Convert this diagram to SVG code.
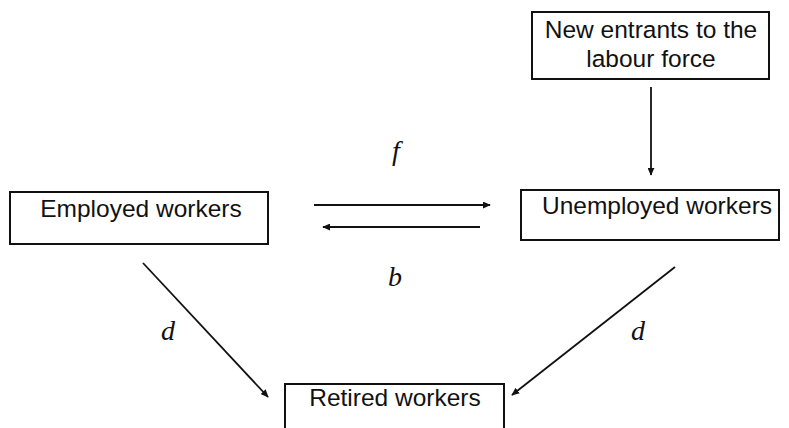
<svg xmlns="http://www.w3.org/2000/svg" width="789" height="428" viewBox="0 0 789 428">
<style>
.box{fill:#fff;stroke:#111;stroke-width:2}
.t{font-family:"Liberation Sans",Arial,sans-serif;font-size:24.5px;fill:#111;text-anchor:middle}
.lbl{font-family:"Liberation Serif","Times New Roman",serif;font-style:italic;font-size:28px;fill:#111;text-anchor:middle}
.c{stroke:#111;stroke-width:1.8;fill:none;marker-end:url(#ah)}
</style>
<defs>
<marker id="ah" viewBox="0 0 10 10" refX="9" refY="5" markerWidth="8" markerHeight="7" markerUnits="userSpaceOnUse" orient="auto" preserveAspectRatio="none">
<path d="M0,0 L10,5 L0,10 Z" fill="#111"/>
</marker>
</defs>
<rect width="789" height="428" fill="#fff"/>
<g id="new-entrants">
<rect class="box" x="532" y="12" width="237" height="67"/>
<text class="t" x="651" y="38">New entrants to the</text>
<text class="t" x="651" y="67">labour force</text>
</g>
<g id="employed">
<rect class="box" x="10" y="192" width="258" height="52"/>
<text class="t" x="141" y="217">Employed workers</text>
</g>
<g id="unemployed">
<rect class="box" x="521" y="190" width="258" height="50"/>
<text class="t" x="657" y="214">Unemployed workers</text>
</g>
<g id="retired">
<rect class="box" x="285" y="384" width="219" height="60"/>
<text class="t" x="395" y="406">Retired workers</text>
</g>
<g id="connectors">
<line class="c" x1="651" y1="87" x2="651" y2="175"/>
<line class="c" x1="314" y1="205" x2="490" y2="205"/>
<line class="c" x1="480" y1="227" x2="323" y2="227"/>
<line class="c" x1="143" y1="263" x2="268" y2="397"/>
<line class="c" x1="675" y1="267" x2="512" y2="395"/>
</g>
<g id="labels">
<text class="lbl" x="396" y="160">f</text>
<text class="lbl" x="395" y="286">b</text>
<text class="lbl" x="168" y="340">d</text>
<text class="lbl" x="638" y="340">d</text>
</g>
</svg>
